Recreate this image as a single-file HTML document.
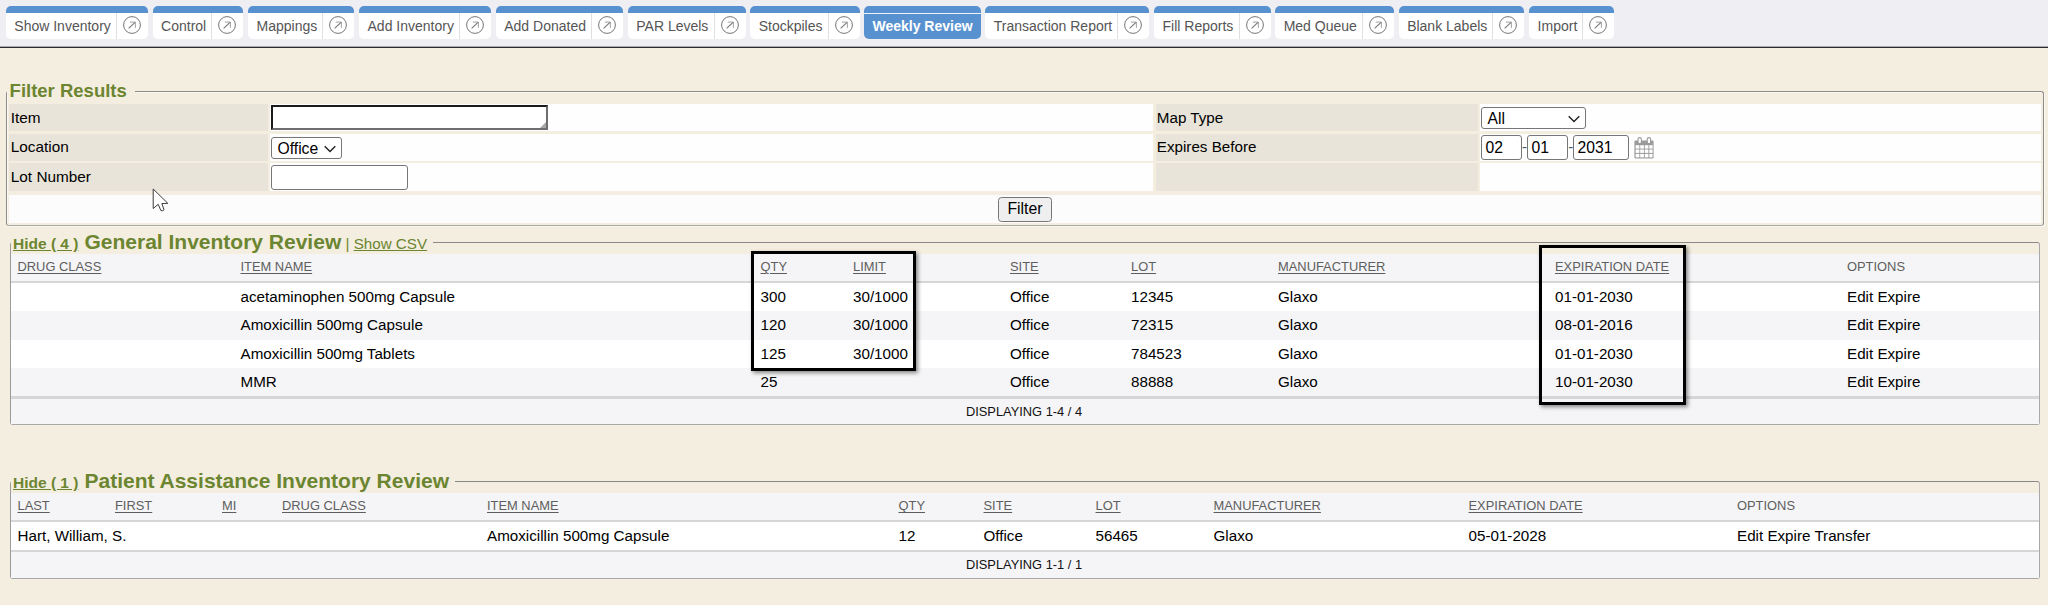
<!DOCTYPE html>
<html lang="en">
<head>
<meta charset="utf-8">
<title>Weekly Review</title>
<style>
*{box-sizing:border-box}
html,body{margin:0;padding:0}
body{width:2048px;height:605px;overflow:hidden;position:relative;background:#f4eee0;font-family:"Liberation Sans",Arial,Helvetica,sans-serif;font-size:15px;color:#000}
#nav{position:absolute;left:0;top:0;width:2048px;height:48px;background:#efeef3;border-bottom:1px solid #2b2b2b;box-shadow:inset 0 -1px 0 rgba(0,0,0,.28);padding:6px 0 0 6px;font-size:0;white-space:nowrap}
.tab{display:inline-block;vertical-align:top;position:relative;height:33px;margin-right:4.82px;background:#fff;border-radius:5px;border-top:7px solid #5891cf;font-size:14px;color:#555;line-height:26px;white-space:nowrap;padding:0 37.2px 0 8.3px;overflow:hidden}
.tab .s{position:absolute;right:31px;top:0;width:1px;height:26px;background:#e0e0e0}
.tab svg{position:absolute;right:6px;top:2px;width:20px;height:20px}
.tab.act{background:#5891cf;color:#fff;font-weight:bold;padding:0 8px 0 8px}
.tab.act:before{content:"";position:absolute;left:0;right:0;top:0;height:1px;background:#eef3fa}
fieldset{position:absolute;margin:0;padding:0;border:1px solid #8c8c8c;border-radius:3px;min-width:0}
legend{padding:0 6px 0 2px;margin:0;color:#6b8530;font-weight:bold;white-space:nowrap;line-height:1}
legend a{text-decoration:underline}
.abs{position:absolute}
.lab{position:absolute;background:#e8e4d9;padding-left:1.8px;font-size:15.35px}
.val{position:absolute;background:#fefefe}
.row{position:absolute;left:11px;width:2028px}
.row span{position:absolute;top:0;white-space:nowrap}
.hd{background:#f5f5f7;color:#5e5e5e;font-size:12.9px}
.hd span{text-decoration:underline;text-decoration-thickness:1.4px;text-underline-offset:1.6px;top:-1px}
.hd span.nu{text-decoration:none}
.hd2 span{top:0}
.w{background:#fff;font-size:15.2px}.g{background:#f5f5f7;font-size:15.2px}
.ln{position:absolute;left:11px;width:2028px;background:#d6d6d8}
.ft{background:#f5f5f7;font-size:12.85px;text-align:center;color:#111;padding-right:2px}
input,select{font-family:"Liberation Sans",Arial,sans-serif}
.inp{position:absolute;background:#fff;border:1px solid #767676;border-radius:3px;font-size:15.7px;padding-left:3.5px}
.hl{position:absolute;border:3px solid #000;box-shadow:2px 2px 4px rgba(0,0,0,.45)}
</style>
</head>
<body>
<div id="nav"><div class="tab">Show Inventory<span class="s"></span><svg viewBox="0 0 20 20"><circle cx="10" cy="10" r="8.4" fill="none" stroke="#777" stroke-width="1"/><path d="M6.6 13.4 L13.3 7.2" fill="none" stroke="#777" stroke-width="1.1"/><path d="M7.8 7.1 H13.4 V12.9" fill="none" stroke="#999" stroke-width="0.9"/></svg></div><div class="tab">Control<span class="s"></span><svg viewBox="0 0 20 20"><circle cx="10" cy="10" r="8.4" fill="none" stroke="#777" stroke-width="1"/><path d="M6.6 13.4 L13.3 7.2" fill="none" stroke="#777" stroke-width="1.1"/><path d="M7.8 7.1 H13.4 V12.9" fill="none" stroke="#999" stroke-width="0.9"/></svg></div><div class="tab">Mappings<span class="s"></span><svg viewBox="0 0 20 20"><circle cx="10" cy="10" r="8.4" fill="none" stroke="#777" stroke-width="1"/><path d="M6.6 13.4 L13.3 7.2" fill="none" stroke="#777" stroke-width="1.1"/><path d="M7.8 7.1 H13.4 V12.9" fill="none" stroke="#999" stroke-width="0.9"/></svg></div><div class="tab">Add Inventory<span class="s"></span><svg viewBox="0 0 20 20"><circle cx="10" cy="10" r="8.4" fill="none" stroke="#777" stroke-width="1"/><path d="M6.6 13.4 L13.3 7.2" fill="none" stroke="#777" stroke-width="1.1"/><path d="M7.8 7.1 H13.4 V12.9" fill="none" stroke="#999" stroke-width="0.9"/></svg></div><div class="tab">Add Donated<span class="s"></span><svg viewBox="0 0 20 20"><circle cx="10" cy="10" r="8.4" fill="none" stroke="#777" stroke-width="1"/><path d="M6.6 13.4 L13.3 7.2" fill="none" stroke="#777" stroke-width="1.1"/><path d="M7.8 7.1 H13.4 V12.9" fill="none" stroke="#999" stroke-width="0.9"/></svg></div><div class="tab">PAR Levels<span class="s"></span><svg viewBox="0 0 20 20"><circle cx="10" cy="10" r="8.4" fill="none" stroke="#777" stroke-width="1"/><path d="M6.6 13.4 L13.3 7.2" fill="none" stroke="#777" stroke-width="1.1"/><path d="M7.8 7.1 H13.4 V12.9" fill="none" stroke="#999" stroke-width="0.9"/></svg></div><div class="tab">Stockpiles<span class="s"></span><svg viewBox="0 0 20 20"><circle cx="10" cy="10" r="8.4" fill="none" stroke="#777" stroke-width="1"/><path d="M6.6 13.4 L13.3 7.2" fill="none" stroke="#777" stroke-width="1.1"/><path d="M7.8 7.1 H13.4 V12.9" fill="none" stroke="#999" stroke-width="0.9"/></svg></div><div class="tab act">Weekly Review</div><div class="tab">Transaction Report<span class="s"></span><svg viewBox="0 0 20 20"><circle cx="10" cy="10" r="8.4" fill="none" stroke="#777" stroke-width="1"/><path d="M6.6 13.4 L13.3 7.2" fill="none" stroke="#777" stroke-width="1.1"/><path d="M7.8 7.1 H13.4 V12.9" fill="none" stroke="#999" stroke-width="0.9"/></svg></div><div class="tab">Fill Reports<span class="s"></span><svg viewBox="0 0 20 20"><circle cx="10" cy="10" r="8.4" fill="none" stroke="#777" stroke-width="1"/><path d="M6.6 13.4 L13.3 7.2" fill="none" stroke="#777" stroke-width="1.1"/><path d="M7.8 7.1 H13.4 V12.9" fill="none" stroke="#999" stroke-width="0.9"/></svg></div><div class="tab">Med Queue<span class="s"></span><svg viewBox="0 0 20 20"><circle cx="10" cy="10" r="8.4" fill="none" stroke="#777" stroke-width="1"/><path d="M6.6 13.4 L13.3 7.2" fill="none" stroke="#777" stroke-width="1.1"/><path d="M7.8 7.1 H13.4 V12.9" fill="none" stroke="#999" stroke-width="0.9"/></svg></div><div class="tab">Blank Labels<span class="s"></span><svg viewBox="0 0 20 20"><circle cx="10" cy="10" r="8.4" fill="none" stroke="#777" stroke-width="1"/><path d="M6.6 13.4 L13.3 7.2" fill="none" stroke="#777" stroke-width="1.1"/><path d="M7.8 7.1 H13.4 V12.9" fill="none" stroke="#999" stroke-width="0.9"/></svg></div><div class="tab">Import<span class="s"></span><svg viewBox="0 0 20 20"><circle cx="10" cy="10" r="8.4" fill="none" stroke="#777" stroke-width="1"/><path d="M6.6 13.4 L13.3 7.2" fill="none" stroke="#777" stroke-width="1.1"/><path d="M7.8 7.1 H13.4 V12.9" fill="none" stroke="#999" stroke-width="0.9"/></svg></div></div>
<fieldset style="left:6px;top:80px;width:2038px;height:146px;border-bottom-color:#a9a9a9;box-shadow:inset 1px 0 0 #fbf8f0,1px 1px 0 #fbf8f0"><legend style="font-size:18.5px;height:23px;line-height:21px;padding-right:8.5px;padding-left:2.6px">Filter Results</legend></fieldset><div class="abs" style="left:137px;top:92px;width:1905px;height:1px;background:#fbf8f0"></div>
<div class="lab" style="left:9px;top:104px;width:259px;height:27px;line-height:27px">Item</div><div class="val" style="left:270px;top:104px;width:882.5px;height:27px"></div><div class="lab" style="left:1155.6px;top:104px;width:322.4px;height:27px;line-height:27px;padding-left:1.2px;font-size:15.2px">Map Type</div><div class="val" style="left:1480px;top:104px;width:560.7px;height:27px"></div>
<div class="lab" style="left:9px;top:133.6px;width:259px;height:27.5px;line-height:25.5px">Location</div><div class="val" style="left:270px;top:133.6px;width:882.5px;height:27.5px"></div><div class="lab" style="left:1155.6px;top:133.6px;width:322.4px;height:27.5px;line-height:25.5px;padding-left:1.2px;font-size:15.2px">Expires Before</div><div class="val" style="left:1480px;top:133.6px;width:560.7px;height:27.5px"></div>
<div class="lab" style="left:9px;top:163.3px;width:259px;height:27.4px;line-height:27.4px">Lot Number</div><div class="val" style="left:270px;top:163.3px;width:882.5px;height:27.4px"></div><div class="lab" style="left:1155.6px;top:163.3px;width:322.4px;height:27.4px;line-height:27.4px;padding-left:1.2px;font-size:15.2px"></div><div class="val" style="left:1480px;top:163.3px;width:560.7px;height:27.4px"></div>
<div class="val" style="left:9px;top:195px;width:2031.7px;height:27.5px;background:#fdfcfc"></div>
<div class="abs" style="left:271px;top:105px;width:277px;height:25px;background:#fff;border:2px solid;border-color:#1b1b1b #6e6e6e #6e6e6e #1b1b1b"><svg class="abs" style="right:0;bottom:0" width="6" height="6" viewBox="0 0 6 6"><path d="M6 0 V6 H0 Z" fill="#a8a8a8"/></svg></div><div class="inp" style="left:271px;top:137px;width:71px;height:22px;line-height:21px;padding-left:5.5px">Office<svg class="abs" style="right:5px;top:6.5px" width="12" height="8" viewBox="0 0 12 8"><path d="M0.7 1.2 L6 6.5 L11.3 1.2" fill="none" stroke="#222" stroke-width="1.4"/></svg></div><div class="inp" style="left:271px;top:165px;width:137px;height:25px"></div>
<div class="inp" style="left:1481px;top:107px;width:105px;height:22px;line-height:21px;padding-left:5.5px">All<svg class="abs" style="right:5px;top:6.5px" width="12" height="8" viewBox="0 0 12 8"><path d="M0.7 1.2 L6 6.5 L11.3 1.2" fill="none" stroke="#222" stroke-width="1.4"/></svg></div><div class="inp" style="left:1481px;top:135px;width:40.6px;height:24.6px;line-height:23px">02</div><div class="abs" style="left:1522px;top:135px;line-height:24px;font-size:15px;color:#456">-</div><div class="inp" style="left:1527px;top:135px;width:41px;height:24.6px;line-height:23px">01</div><div class="abs" style="left:1568.3px;top:135px;line-height:24px;font-size:15px;color:#456">-</div><div class="inp" style="left:1573px;top:135px;width:55.7px;height:24.6px;line-height:23px">2031</div><svg class="abs" style="left:1634px;top:136.5px" width="20" height="22" viewBox="0 0 20 22"><rect x="0.4" y="3.4" width="19.2" height="18.2" rx="1.3" fill="#9a9a9a"/><rect x="4.0" y="0.6" width="3.4" height="6.2" rx="1.7" fill="#fff" stroke="#9a9a9a" stroke-width="1.1"/><rect x="13.200000000000001" y="0.6" width="3.4" height="6.2" rx="1.7" fill="#fff" stroke="#9a9a9a" stroke-width="1.1"/><rect x="1.6" y="8.2" width="3.8" height="3.4" fill="#fff"/><rect x="1.6" y="12.5" width="3.8" height="3.4" fill="#fff"/><rect x="1.6" y="16.9" width="3.8" height="3.5" fill="#fff"/><rect x="6.2" y="8.2" width="3.7" height="3.4" fill="#fff"/><rect x="6.2" y="12.5" width="3.7" height="3.4" fill="#fff"/><rect x="6.2" y="16.9" width="3.7" height="3.5" fill="#fff"/><rect x="10.8" y="8.2" width="3.6" height="3.4" fill="#fff"/><rect x="10.8" y="12.5" width="3.6" height="3.4" fill="#fff"/><rect x="10.8" y="16.9" width="3.6" height="3.5" fill="#fff"/><rect x="15.3" y="8.2" width="3.3" height="3.4" fill="#fff"/><rect x="15.3" y="12.5" width="3.3" height="3.4" fill="#fff"/><rect x="15.3" y="16.9" width="3.3" height="3.5" fill="#fff"/></svg>
<div class="abs" style="left:998px;top:197px;width:54px;height:25px;background:#efefef;border:1px solid #767676;border-radius:3.5px;text-align:center;line-height:22.5px;font-size:15.8px">Filter</div>
<svg class="abs" style="left:152px;top:188px" width="18" height="26" viewBox="0 0 18 26"><path d="M1.2 1 V20.5 L6.2 16.3 L8.8 22.4 Q10.4 23.4 12 21.8 L9.9 15.6 L15.8 15.3 Z" fill="#fff" stroke="#262626" stroke-width="0.9" stroke-linejoin="round"/></svg>
<fieldset style="left:10px;top:230px;width:2030px;height:195px;border-color:#8a8a8a #a8a8a8 #a8a8a8 #9c9c9c"><legend style="height:25px;line-height:23px;font-size:15.5px;padding-left:2px"><a>Hide ( 4 )</a> <span style="font-size:21px;margin-left:1.7px">General Inventory Review</span><span style="font-weight:normal;font-size:15.2px"> | <a>Show CSV</a></span></legend></fieldset>
<div class="row hd" style="top:253.7px;height:27.3px;line-height:27.3px"><span style="left:6.5px">DRUG CLASS</span><span style="left:229.5px">ITEM NAME</span><span style="left:749.5px">QTY</span><span style="left:842px">LIMIT</span><span style="left:999px">SITE</span><span style="left:1120px">LOT</span><span style="left:1267px">MANUFACTURER</span><span style="left:1544px">EXPIRATION DATE</span><span class="nu" style="left:1836px">OPTIONS</span></div>
<div class="ln" style="top:280.7px;height:2.3px"></div>
<div class="row w" style="top:283px;height:28.19999999999999px;line-height:28.19999999999999px"><span style="left:229.5px">acetaminophen 500mg Capsule</span><span style="left:749.5px">300</span><span style="left:842px">30/1000</span><span style="left:999px">Office</span><span style="left:1120px">12345</span><span style="left:1267px">Glaxo</span><span style="left:1544px">01-01-2030</span><span style="left:1836px">Edit Expire</span></div>
<div class="row g" style="top:311.2px;height:28.600000000000023px;line-height:28.600000000000023px"><span style="left:229.5px">Amoxicillin 500mg Capsule</span><span style="left:749.5px">120</span><span style="left:842px">30/1000</span><span style="left:999px">Office</span><span style="left:1120px">72315</span><span style="left:1267px">Glaxo</span><span style="left:1544px">08-01-2016</span><span style="left:1836px">Edit Expire</span></div>
<div class="row w" style="top:339.8px;height:28.30000000000001px;line-height:28.30000000000001px"><span style="left:229.5px">Amoxicillin 500mg Tablets</span><span style="left:749.5px">125</span><span style="left:842px">30/1000</span><span style="left:999px">Office</span><span style="left:1120px">784523</span><span style="left:1267px">Glaxo</span><span style="left:1544px">01-01-2030</span><span style="left:1836px">Edit Expire</span></div>
<div class="row g" style="top:368.1px;height:28.099999999999966px;line-height:28.099999999999966px"><span style="left:229.5px">MMR</span><span style="left:749.5px">25</span><span style="left:999px">Office</span><span style="left:1120px">88888</span><span style="left:1267px">Glaxo</span><span style="left:1544px">10-01-2030</span><span style="left:1836px">Edit Expire</span></div>
<div class="ln" style="top:396.2px;height:2.6px"></div>
<div class="row ft" style="top:398.8px;height:25.2px;line-height:25.2px">DISPLAYING 1-4 / 4</div>
<div class="hl" style="left:751px;top:251px;width:165px;height:120px"></div><div class="hl" style="left:1539px;top:245px;width:147px;height:160px"></div>
<fieldset style="left:10px;top:469px;width:2030px;height:110px;border-color:#8a8a8a #a8a8a8 #a8a8a8 #9c9c9c"><legend style="height:25px;line-height:23px;font-size:15.5px;padding-left:2px"><a>Hide ( 1 )</a> <span style="font-size:21px;margin-left:1.7px">Patient Assistance Inventory Review</span></legend></fieldset>
<div class="row hd hd2" style="top:493.2px;height:26.4px;line-height:26.4px"><span style="left:6.5px">LAST</span><span style="left:104px">FIRST</span><span style="left:211px">MI</span><span style="left:271px">DRUG CLASS</span><span style="left:476px">ITEM NAME</span><span style="left:887.5px">QTY</span><span style="left:972.5px">SITE</span><span style="left:1084.5px">LOT</span><span style="left:1202.5px">MANUFACTURER</span><span style="left:1457.5px">EXPIRATION DATE</span><span class="nu" style="left:1726px">OPTIONS</span></div>
<div class="ln" style="top:519.6px;height:2.1px"></div>
<div class="row w" style="top:521.6px;height:28px;line-height:28px"><span style="left:6.5px">Hart, William, S.</span><span style="left:476px">Amoxicillin 500mg Capsule</span><span style="left:887.5px">12</span><span style="left:972.5px">Office</span><span style="left:1084.5px">56465</span><span style="left:1202.5px">Glaxo</span><span style="left:1457.5px">05-01-2028</span><span style="left:1726px">Edit Expire Transfer</span></div>
<div class="ln" style="top:549.6px;height:2px"></div>
<div class="row ft" style="top:551.6px;height:26px;line-height:26.4px">DISPLAYING 1-1 / 1</div>
</body>
</html>
